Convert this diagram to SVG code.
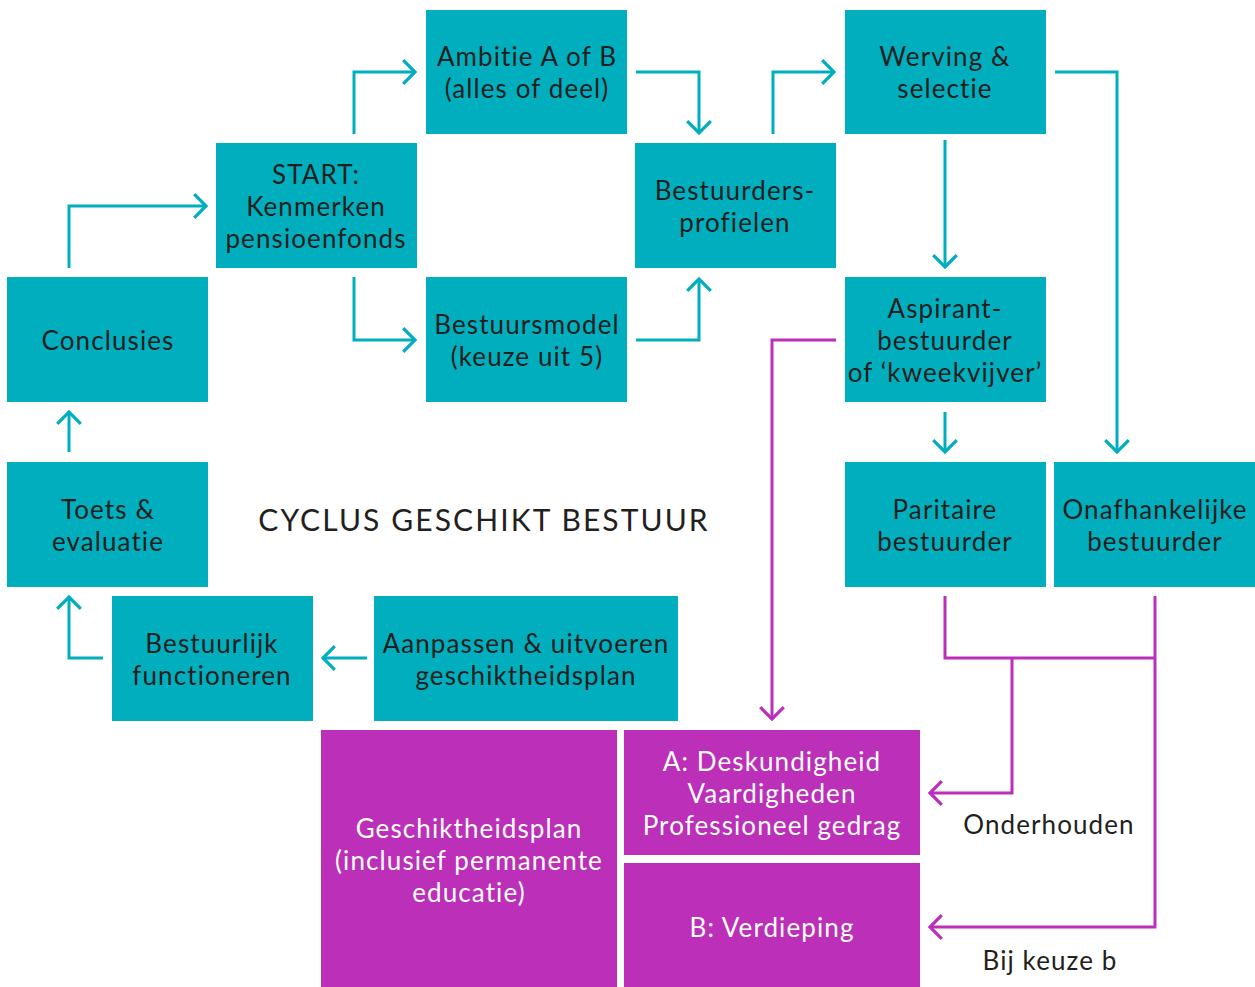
<svg xmlns="http://www.w3.org/2000/svg" width="1255" height="987" viewBox="0 0 1255 987">
<defs>
<style>
.t{fill:#00aebe}
.m{fill:#bb2fb9}
text{font-family:Lato,"Open Sans","Liberation Sans",sans-serif;font-size:26px;letter-spacing:1.1px;fill:#231f20;text-anchor:middle}
.w{fill:#ffffff}
.ct{fill:none;stroke:#00aebe;stroke-width:3}
.cm{fill:none;stroke:#bb2fb9;stroke-width:3}
</style>
<marker id="at" markerUnits="userSpaceOnUse" markerWidth="30" markerHeight="30" viewBox="-14 -14 28 28" refX="0" refY="0" orient="auto"><path d="M-11,-11 L0,0 L-11,11" fill="none" stroke="#00aebe" stroke-width="3"/></marker>
<marker id="am" markerUnits="userSpaceOnUse" markerWidth="30" markerHeight="30" viewBox="-14 -14 28 28" refX="0" refY="0" orient="auto"><path d="M-11,-11 L0,0 L-11,11" fill="none" stroke="#bb2fb9" stroke-width="3"/></marker>
</defs>
<rect width="1255" height="987" fill="#ffffff"/>
<g id="ambitie"><rect class="t" x="426" y="10" width="201" height="124"/><text x="527" y="66">Ambitie A of B</text><text x="527" y="98">(alles of deel)</text></g>
<g id="werving"><rect class="t" x="845" y="10" width="201" height="124"/><text x="945" y="66">Werving &amp;</text><text x="945" y="98">selectie</text></g>
<g id="start"><rect class="t" x="216" y="143" width="201" height="125"/><text x="316" y="184">START:</text><text x="316" y="216">Kenmerken</text><text x="316" y="248">pensioenfonds</text></g>
<g id="profielen"><rect class="t" x="635" y="143" width="201" height="125"/><text x="735" y="200">Bestuurders-</text><text x="735" y="232">profielen</text></g>
<g id="conclusies"><rect class="t" x="7" y="277" width="201" height="125"/><text x="108" y="350">Conclusies</text></g>
<g id="bestuursmodel"><rect class="t" x="426" y="277" width="201" height="125"/><text x="527" y="334">Bestuursmodel</text><text x="527" y="366">(keuze uit 5)</text></g>
<g id="aspirant"><rect class="t" x="845" y="277" width="201" height="125"/><text x="945" y="318">Aspirant-</text><text x="945" y="350">bestuurder</text><text x="945" y="382">of ‘kweekvijver’</text></g>
<g id="toets"><rect class="t" x="7" y="462" width="201" height="125"/><text x="108" y="519">Toets &amp;</text><text x="108" y="551">evaluatie</text></g>
<g id="titel"><text x="484" y="531" style="font-size:30px;letter-spacing:2.1px">CYCLUS GESCHIKT BESTUUR</text></g>
<g id="paritaire"><rect class="t" x="845" y="462" width="201" height="125"/><text x="945" y="519">Paritaire</text><text x="945" y="551">bestuurder</text></g>
<g id="onafhankelijke"><rect class="t" x="1054" y="462" width="201" height="125"/><text x="1155" y="519">Onafhankelijke</text><text x="1155" y="551">bestuurder</text></g>
<g id="bestuurlijk"><rect class="t" x="112" y="596" width="201" height="125"/><text x="212" y="653">Bestuurlijk</text><text x="212" y="685">functioneren</text></g>
<g id="aanpassen"><rect class="t" x="374" y="596" width="304" height="125"/><text x="526" y="653">Aanpassen &amp; uitvoeren</text><text x="526" y="685">geschiktheidsplan</text></g>
<g id="plan"><rect class="m" x="321" y="730" width="296" height="257"/><text class="w" x="469" y="838">Geschiktheidsplan</text><text class="w" x="469" y="870">(inclusief permanente</text><text class="w" x="469" y="902">educatie)</text></g>
<g id="a"><rect class="m" x="624" y="730" width="296" height="125"/><text class="w" x="772" y="771">A: Deskundigheid</text><text class="w" x="772" y="803">Vaardigheden</text><text class="w" x="772" y="835">Professioneel gedrag</text></g>
<g id="b"><rect class="m" x="624" y="863" width="296" height="124"/><text class="w" x="772" y="937">B: Verdieping</text></g>
<g id="labels"><text x="1049" y="834">Onderhouden</text><text x="1050" y="970">Bij keuze b</text></g>
<g id="connectors">
<path class="ct" d="M354,134 V72 H415" marker-end="url(#at)"/>
<path class="ct" d="M636,72 H699 V133" marker-end="url(#at)"/>
<path class="ct" d="M773,134 V72 H834" marker-end="url(#at)"/>
<path class="ct" d="M1055,72 H1117 V452" marker-end="url(#at)"/>
<path class="ct" d="M945,140 V267" marker-end="url(#at)"/>
<path class="ct" d="M945,412 V452" marker-end="url(#at)"/>
<path class="ct" d="M354,277 V340 H415" marker-end="url(#at)"/>
<path class="ct" d="M636,340 H699 V279" marker-end="url(#at)"/>
<path class="ct" d="M69,268 V206 H206" marker-end="url(#at)"/>
<path class="ct" d="M69,452 V412" marker-end="url(#at)"/>
<path class="ct" d="M103,658 H69 V597" marker-end="url(#at)"/>
<path class="ct" d="M367,658 H323" marker-end="url(#at)"/>
<path class="cm" d="M836,340 H772 V719" marker-end="url(#am)"/>
<path class="cm" d="M945,596 V658 H1155"/>
<path class="cm" d="M1155,596 V927 H930" marker-end="url(#am)"/>
<path class="cm" d="M1012,658 V793 H930" marker-end="url(#am)"/>
</g>
</svg>
